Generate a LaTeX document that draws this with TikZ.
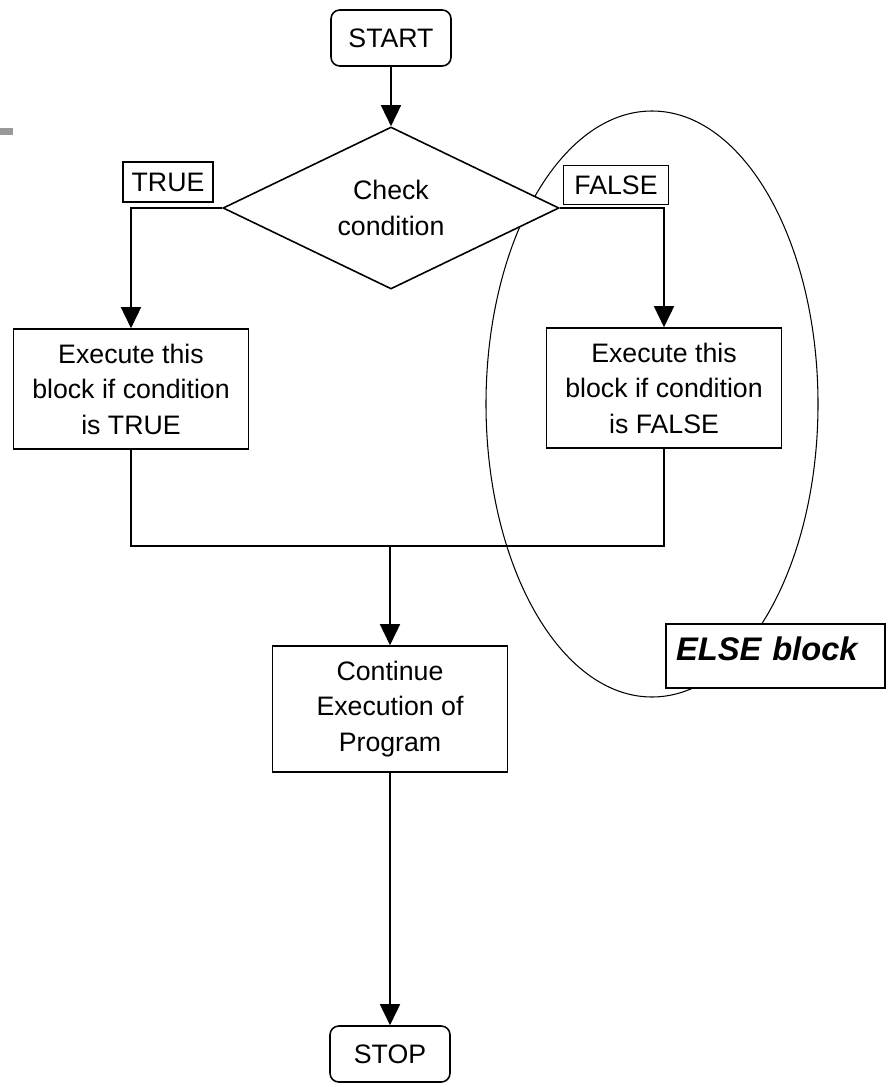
\documentclass[tikz,border=0pt]{standalone}
\usepackage{fontspec}
\setmainfont{Liberation Sans}
\usepackage{tikz}
\usetikzlibrary{arrows.meta,positioning,shapes.geometric,calc}
\tikzset{
  texto/.style={font=\fontsize{15.2}{20.2}\selectfont, align=center},
  terminal/.style={texto, draw, line width=0.9pt, rounded corners=5pt, fill=white, minimum width=2.4cm, minimum height=1.12cm, inner sep=0pt},
  bloque/.style={texto, draw, line width=0.9pt, fill=white, minimum width=4.7cm, minimum height=2.4cm, inner sep=0pt},
  decision/.style={texto, draw, line width=0.9pt, diamond, fill=white, minimum width=6.72cm, minimum height=3.2cm, inner sep=0pt},
  etiqueta/.style={texto, draw, line width=0.8pt, fill=white, inner sep=0pt, minimum height=0.8cm},
  flecha/.style={-{Triangle[length=0.42cm, width=0.4cm]}, line width=0.9pt},
  linea/.style={line width=0.9pt},
}
\begin{document}
\begin{tikzpicture}[x=0.2mm, y=-0.2mm]
\useasboundingbox (0,0) rectangle (888,1087);
\fill[white] (0,0) rectangle (888,1087);
\fill[black!40] (0,128) rectangle (13,135);

% else region
\draw[line width=0.6pt] (652,404) ellipse [x radius=166, y radius=293];

\node[terminal] (start) at (391,38) {START};
\node[decision] (chk) at (391,208) {Check\\condition};
\node[etiqueta, minimum width=1.8cm] (ltrue) at (168,182) {TRUE};
\node[etiqueta, minimum width=2.1cm, minimum height=0.78cm] (lfalse) at (616,185) {FALSE};

\node[bloque] (blkT) at (131,389) {Execute this\\block if condition\\is TRUE};
\node[bloque] (blkF) at (664,388) {Execute this\\block if condition\\is FALSE};
\coordinate (merge) at (390,546);
\node[bloque, minimum height=2.52cm] (cont) at (390,709) {Continue\\Execution of\\Program};
\node[terminal] (stop) at (390,1054) {STOP};

\node[draw, line width=0.8pt, fill=white, minimum width=4.38cm, text width=3.98cm, align=left,
      inner xsep=0.2cm, inner ysep=0pt, text height=0.72cm, text depth=0.56cm,
      font=\fontsize{18.6}{20}\selectfont\bfseries\itshape] (elsebox) at (775.5,656) {ELSE block};

\draw[flecha] (start) -- (chk);
\draw[flecha] (chk.west) -| (blkT.north);
\draw[flecha] (chk.east) -| (blkF.north);
\draw[linea] (blkT.south) |- (merge) -| (blkF.south);
\draw[flecha] (merge) -- (cont.north);
\draw[flecha] (cont.south) -- (stop.north);
\end{tikzpicture}
\end{document}
